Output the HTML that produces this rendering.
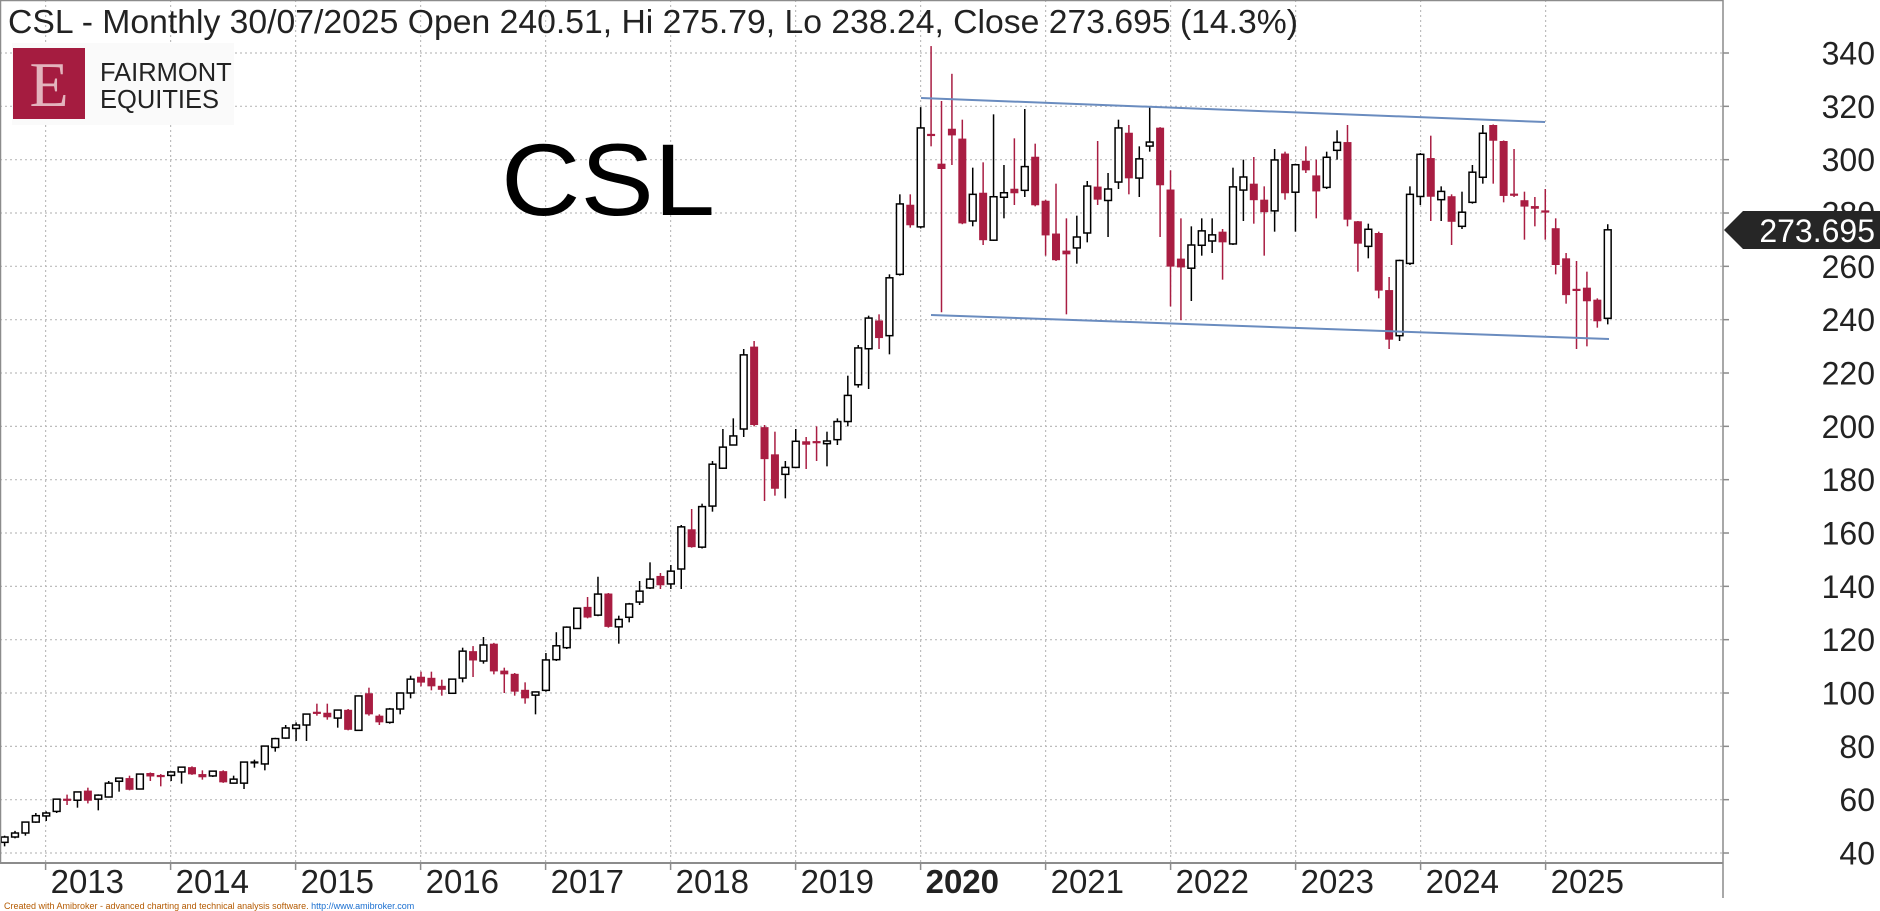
<!DOCTYPE html>
<html><head><meta charset="utf-8"><style>
html,body{margin:0;padding:0;background:#fff;}
svg{display:block;font-family:"Liberation Sans",Arial,sans-serif;}
</style></head><body>
<svg id="c" width="1880" height="911" viewBox="0 0 1880 911" xmlns="http://www.w3.org/2000/svg">
<rect x="0" y="0" width="1880" height="911" fill="#fff"/>
<g id="grid"></g>
<rect x="12" y="43" width="222" height="82" fill="#fafafa"/>
<rect x="13" y="48" width="72" height="71" fill="#a51c40"/>
<text x="49" y="106" font-family="'Liberation Serif',serif" font-size="64" fill="#e3b4bd" text-anchor="middle">E</text>
<text x="100" y="81" font-size="25.5" fill="#222">FAIRMONT</text>
<text x="100" y="108" font-size="25.5" fill="#222">EQUITIES</text>
<text x="501" y="215" font-size="102" fill="#000" textLength="214" lengthAdjust="spacingAndGlyphs">CSL</text>
<text x="8" y="33" font-size="33" fill="#222" textLength="1290" lengthAdjust="spacingAndGlyphs">CSL - Monthly 30/07/2025 Open 240.51, Hi 275.79, Lo 238.24, Close 273.695 (14.3%)</text>
<g id="candles"></g>
<polyline points="921,98 1545,122" fill="none" stroke="#6a8cbf" stroke-width="2"/>
<polyline points="931,315 1609,339" fill="none" stroke="#6a8cbf" stroke-width="2"/>
<line x1="0.5" y1="0" x2="0.5" y2="863" stroke="#8c8c8c" stroke-width="1.5"/>
<line x1="0" y1="0.5" x2="1723" y2="0.5" stroke="#8c8c8c" stroke-width="1.5"/>
<line x1="1723" y1="0" x2="1723" y2="898" stroke="#8c8c8c" stroke-width="1.5"/>
<line x1="0" y1="863" x2="1723" y2="863" stroke="#8c8c8c" stroke-width="2"/>
<g id="axis"></g>
<polygon points="1724,230 1743,211 1880,211 1880,249 1743,249" fill="#262626"/>
<text x="1875" y="242" font-size="32" fill="#fff" text-anchor="end">273.695</text>
<text x="4" y="909" font-size="9" fill="#b45a00">Created with Amibroker - advanced charting and technical analysis software. <tspan fill="#1a6fd0">http://www.amibroker.com</tspan></text>
</svg>
<script>
var NS="http://www.w3.org/2000/svg";
function el(t,a,p){var e=document.createElementNS(NS,t);for(var k in a)e.setAttribute(k,a[k]);p.appendChild(e);return e;}
function Y(v){return 53+(340-v)*2.6667;}
var g=document.getElementById('grid'),ax=document.getElementById('axis');
for(var v=40;v<=340;v+=20){var y=Y(v);
 el('line',{x1:0,y1:y,x2:1723,y2:y,stroke:'#bdbdbd','stroke-width':1.2,'stroke-dasharray':'2,3'},g);
 el('line',{x1:1723,y1:y,x2:1729,y2:y,stroke:'#8c8c8c','stroke-width':1.5},ax);
 var t=el('text',{x:1875,y:y+11.5,'font-size':32,fill:'#222','text-anchor':'end'},ax);t.textContent=v;
}
for(var i=0;i<13;i++){var x=45.6+i*125;
 el('line',{x1:x,y1:0,x2:x,y2:863,stroke:'#bdbdbd','stroke-width':1.2,'stroke-dasharray':'2,3'},g);
 el('line',{x1:x,y1:863,x2:x,y2:870,stroke:'#8c8c8c','stroke-width':1.5},ax);
 var yr=2013+i;var t=el('text',{x:x+5,y:893,'font-size':33,fill:'#222','font-weight':yr==2020?'bold':'normal'},ax);t.textContent=yr;
}
var D=[[44,46,46.5,42.5],[46,47.5,48.3,45.5],[47.5,51.6,51.8,46.5],[51.6,54,55,51.3],[53.9,55,55.6,52],[55.6,60.2,60.4,55],[60,59.5,61.9,58],[59.8,62.9,63,57],[63.4,59.6,64.5,58.6],[60.2,61.7,62,56],[61,66.2,67,60.8],[66.9,68.1,68.3,63],[68.1,63.7,69,63.5],[64,69.6,69.8,63.8],[70,68.7,70.2,67],[68.9,68.8,69.6,65],[69.1,70.4,70.6,67],[70.4,72.2,72.4,66],[72.2,69.5,72.5,69.3],[69.6,68.4,71,67.5],[68.9,70.7,70.9,68.5],[70.7,66.5,71,66.3],[66.2,67.7,69,66],[66.2,74.1,74.3,64],[73.8,74,75,72],[73.4,80.1,80.3,71],[79.6,82.9,83.2,78],[83.1,86.9,88,82.8],[86.7,88,89,82],[88,92.1,92.3,82],[92.6,92,96,91.5],[92.6,90.9,96,90],[90.6,93.6,93.8,87],[93.7,86.2,94,86],[86,98.9,99.1,85.8],[99.9,92,102,91.5],[91.5,89,92,88],[89,94,94.4,88.5],[94,100,100.2,92],[100,105.2,106.5,98],[106.1,103.9,108,102.5],[105.7,102.5,108,101],[102.7,101.2,105,99],[99.9,105.2,105.4,99.7],[105.6,115.7,117,104],[115.7,112.2,117.6,106],[112,118,121,111],[118.5,108.1,118.8,107],[108.4,107,109.5,100],[107.2,100.5,107.5,99],[101.2,98,104,96],[99.2,100.4,100.6,92],[101,112.4,115,100.5],[112.5,117.7,122.8,112],[117,124.7,125,116.5],[124.2,131.8,132,124],[132.3,128.3,136,128],[129.2,137.1,143.6,128.8],[137.3,124.8,137.5,124.5],[124.8,127.6,129,118.5],[128.4,133.4,133.8,126.5],[134.1,138.2,142,133],[139.4,142.7,149,139],[143.9,140.4,145,139],[140.9,145.7,148,139],[146.5,162.3,163,139],[161.4,154.7,169,154.5],[154.7,169.9,171,154.2],[170.1,185.8,187,168],[184.3,192.2,199,184],[193,196.4,203,193],[199,226.8,229,196],[229.9,200.5,232,200],[199.7,187.7,200.5,172],[189.5,176.6,198,174],[182,184.6,187,173],[184.6,194.4,199,184.3],[194.4,193.1,196,184],[194.1,194,200,187],[193.5,194.5,198,185],[195,201.8,203,193],[201.8,211.6,219,200],[215.6,229.4,230.5,214.5],[229.1,240.6,241.5,214],[239.7,233.1,242,229],[234,255.7,257,227],[257,283.4,287,256.5],[283.1,275.4,287,274.5],[274.8,311.9,319.7,274.2],[309.3,309.2,342.6,305],[298.5,296.5,322,242.8],[311.6,309.1,332.2,298],[307.9,276.1,315,275.8],[277,287,297,275],[287.6,269.8,299,268],[269.8,286.1,317,269.5],[285.9,287.6,298,278],[289.1,287.4,308,283],[288.5,297.4,319,286],[301.1,282.9,306,282.5],[284.6,271.6,285,264],[272.3,262.3,291,262],[265.9,264.5,278,242],[266.9,271,279,261],[272.5,290.1,292,269],[289.9,285,307,283],[284.7,289,295,271],[291.6,311.9,315,289],[310.1,293,313,287],[293.1,300.3,305,286],[305.1,306.6,319.7,303],[312,290.4,312.2,271],[288.8,259.9,296,245],[262.9,259.6,278,239.8],[259.3,268,275,247],[267.9,273.3,278,264],[269.5,271.8,278,265],[273,269,274,255],[268.4,289.8,297,268],[288.6,293.5,300,277],[291,284.8,301,276],[285,280.3,290,264],[280.8,299.9,304,273],[302.3,287.4,303,285],[287.8,298.1,298.5,273],[299.6,296,305,295],[294.1,288.1,300,278],[289.6,300.9,303,289],[303.5,306.5,311,300],[306.6,277.5,313,275],[276.9,268.5,277,258],[267.5,273.9,276,263],[272.5,250.9,273,248],[251.1,232.5,256,229],[234,262.2,262.5,232],[261.1,287,290,260.5],[286.2,302,302.5,283],[300.6,286.1,309,277],[285,288.1,290,277],[286.3,276.7,287,268],[275,280.3,288,274],[284,295.3,298,283.5],[293.4,309.9,313,291],[313,307.1,313.2,291],[307,286.4,307.2,284],[286.9,286.8,304,286],[284.8,282.4,288,270],[282.6,281.6,286,275],[280.6,280.5,289,270],[274.3,260.5,278,257],[263,249.2,265,246],[251.2,251.1,262,229],[252,246.9,258,230],[247.5,239.4,248,237],[240.51,273.695,275.79,238.24]];
var cg=document.getElementById('candles');
for(var i=0;i<D.length;i++){var d=D[i],o=d[0],c=d[1],h=d[2],l=d[3];var x=4.6+i*10.41;
 var up=c>=o;var col=up?'#000':'#a91d42';
 el('line',{x1:x,y1:Y(h),x2:x,y2:Y(l),stroke:col,'stroke-width':1.5},cg);
 var yt=Y(Math.max(o,c)),yb=Y(Math.min(o,c));
 if(yb-yt<2){el('rect',{x:x-4,y:yt-1,width:8,height:2.2,fill:col},cg);}
 else if(up){el('rect',{x:x-3.4,y:yt,width:6.8,height:yb-yt,fill:'#fff',stroke:'#000','stroke-width':1.5},cg);}
 else{el('rect',{x:x-4,y:yt,width:8,height:yb-yt,fill:col},cg);}
}
</script>
</body></html>
